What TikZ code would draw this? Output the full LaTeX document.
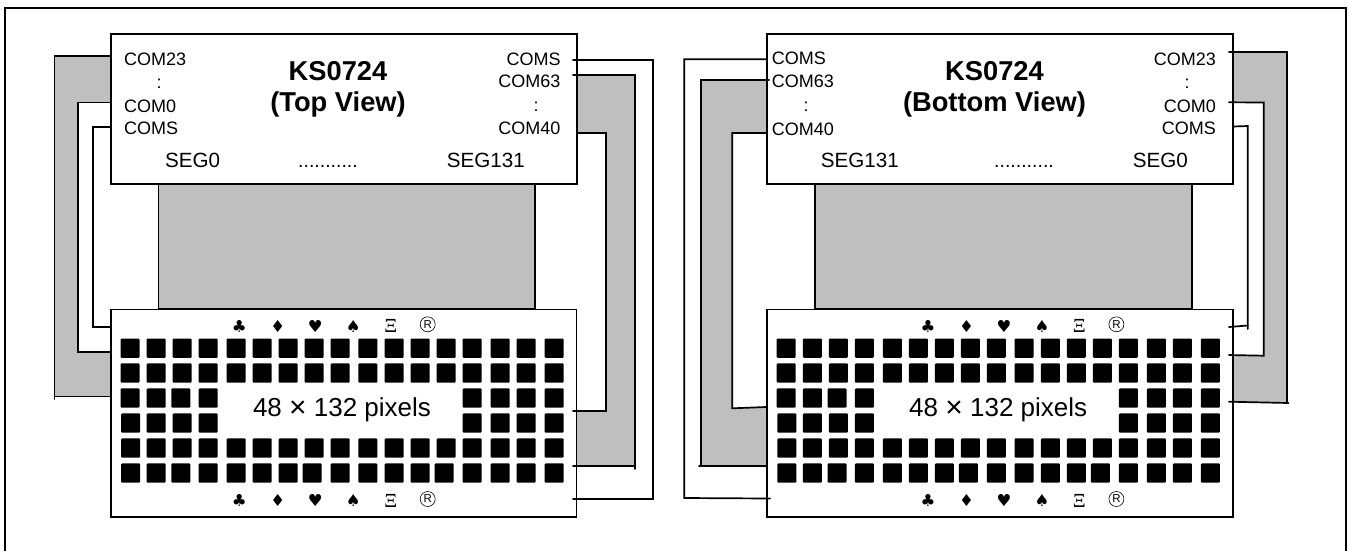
\documentclass[tikz,border=0pt]{standalone}
\usepackage{fontspec}
\setmainfont{Liberation Sans}
\newfontfamily\symfont{DejaVu Sans}
\newfontfamily\xifont{Liberation Serif}
\newcommand{\pxfont}[1]{\fontsize{#1}{#1}\selectfont}
\newcommand{\timesmark}{\raisebox{-1.2pt}{\pxfont{30}×}}
\tikzset{
  frame/.style={line width=1.7pt,draw=black},
  chip/.style={draw=black,fill=white,line width=1.8pt,inner sep=0pt,minimum width=#1,minimum height=150pt,anchor=north west},
  panel/.style={draw=black,fill=white,line width=1.8pt,inner sep=0pt,minimum width=#1,minimum height=207.5pt,anchor=north west},
  flex/.style={draw=black,fill=flexgrey,line width=1.8pt},
  band/.style={fill=flexgrey,draw=none},
  wire/.style={draw=black,line width=1.7pt,line cap=round,line join=miter},
  pin/.style={inner sep=0pt,font=\pxfont{18}},
  seglabel/.style={inner sep=0pt,font=\pxfont{20.6}},
  titlelabel/.style={inner sep=0pt,font=\pxfont{27.3}\bfseries,align=center},
  dim/.style={inner sep=0pt,font=\pxfont{26}},
  glyph/.style={inner sep=0pt,font=\symfont\pxfont{16.5}},
  regmark/.style={circle,draw=black,line width=0.6pt,inner sep=0pt,minimum size=15pt,font=\pxfont{11.5}},
  ximark/.style={inner sep=0pt,font=\xifont\pxfont{20}},
  dotslabel/.style={inner sep=0pt,font=\pxfont{19.5}},
}
\definecolor{flexgrey}{HTML}{BFBFBF}
% rows of pixels: #1 = x offset
\newcommand{\pixrow}[3]{%
  \foreach \cx in {#3} {\fill[black,rounded corners=1pt] ({#1+\cx},#2) rectangle ++(19,19.3);}}
\newcommand{\pixels}[1]{%
  \pixrow{#1}{338.5}{120.5,146.7,172.7,198.7,226.7,252.7,278.7,304.7,330.7,358.3,384.7,410.7,436.7,462.7,490.7,516.7,544.7}
  \pixrow{#1}{363.4}{120.5,146.7,172.7,198.7,226.7,252.7,278.7,304.7,330.7,358.3,384.7,410.7,436.7,462.7,490.7,516.7,544.7}
  \pixrow{#1}{388.4}{120.5,146.7,171.3,198.7,462.7,490.7,516.7,544.7}
  \pixrow{#1}{413.4}{121.2,146.7,172.7,198.7,462.7,490.7,516.7,544.7}
  \pixrow{#1}{438.4}{121.2,146.7,172.7,198.7,226.7,252.7,278.7,304.7,330.7,358.3,384.7,410.7,436.7,462.7,490.7,516.7,544.7}
  \pixrow{#1}{463.4}{121.2,146.7,171.3,198.7,226.7,252.7,278.7,302.7,330.7,358.3,384.7,410.7,434.7,462.7,490.7,516.7,544.7}}
\begin{document}
\begin{tikzpicture}[x=1pt,y=-1pt]
\useasboundingbox (0,0) rectangle (1349,550);
\fill[white] (0,0) rectangle (1349,550);
% outer frame, open at the foot of the picture
\coordinate (fbl) at (5.2,552);
\coordinate (ftl) at (5.2,7.7);
\coordinate (ftr) at (1345.7,7.7);
\coordinate (fbr) at (1345.7,552);
\draw[frame] (fbl) -- (ftl) -- (ftr) -- (fbr);

% ===== grey bands =====
\fill[band] (110,56) -- (54.5,56) -- (54.5,396.5) -- (110,396.5) -- (110,351.7) -- (78,351.7) -- (78,102.5) -- (110,102.5) -- cycle;
\fill[band] (576,75) -- (635.3,75) -- (635.3,465.7) -- (576,465.7) -- (576,410.7) -- (606,410.7) -- (606,132.7) -- (576,132.7) -- cycle;
\fill[band] (767,80) -- (700.7,80) -- (700.7,465.7) -- (767,465.7) -- (767,407) -- (732.3,408.3) -- (732.3,133) -- (767,133) -- cycle;
\fill[band] (1231,52) -- (1286.7,52) -- (1286.7,403) -- (1231,401.7) -- (1231,355) -- (1263.7,355.7) -- (1263.7,102.5) -- (1231,102.5) -- cycle;

% ===== flex strips between chip and panel =====
\draw[flex] (158.5,183) rectangle (535,308.5);
\draw[flex] (815,183) rectangle (1191.7,308.5);

% ===== left assembly =====
\node[chip=466pt] (chipA) at (110,33) {};
\node[panel=465.5pt] (panelA) at (110,308.5) {};
\pixels{0}

% ===== right assembly =====
\node[chip=465.5pt] (chipB) at (766.2,33) {};
\node[panel=465.5pt] (panelB) at (766.2,308.5) {};
\pixels{656.2}

% ===== connector ends =====
\coordinate (a1s) at (chipA.west |- 0,56);
\coordinate (a1e) at (panelA.west |- 0,396.5);
\coordinate (a2s) at (chipA.west |- 0,102.5);
\coordinate (a2e) at (panelA.west |- 0,351.7);
\coordinate (a3s) at (chipA.west |- 0,127);
\coordinate (a3e) at (panelA.west |- 0,326.7);
\coordinate (a4s) at (573,60);
\coordinate (a4e) at (573,499);
\coordinate (a5s) at (573,75);
\coordinate (a5e) at (573,465.7);
\coordinate (a6s) at (chipA.east |- 0,132.7);
\coordinate (a6e) at (573,410.7);
\coordinate (b1s) at (chipB.west |- 0,59.3);
\coordinate (b1e) at (770,498.5);
\coordinate (b2s) at (769,80);
\coordinate (b2e) at (panelB.west |- 0,465.7);
\coordinate (b3s) at (chipB.west |- 0,133);
\coordinate (b3e) at (panelB.west |- 0,407);
\coordinate (b4s) at (1229,52);
\coordinate (b4e) at (1229,401.7);
\coordinate (b5s) at (1229,102.3);
\coordinate (b5e) at (1229,355);
\coordinate (b6s) at (chipB.east |- 0,126.5);
\coordinate (b6e) at (1229,327);

\draw[wire] (a1s) -- (54.5,56) -- (54.5,399);
\draw[wire] (54.5,396.5) -- (a1e);
\draw[wire] (a2s) -- (78,102.5) -- (78,351.7) -- (a2e);
\draw[wire] (a3s) -- (93,127) -- (93,326.7) -- (a3e);
\draw[wire] (a4s) -- (652.7,60) -- (652.7,499) -- (a4e);
\draw[wire] (a5s) -- (635.3,75) -- (635.3,469);
\draw[wire] (635.3,465.7) -- (a5e);
\draw[wire] (a6s) -- (606,132.7) -- (606,410.7) -- (a6e);
\draw[wire] (b1s) -- (684.3,59.3) -- (684.3,498) -- (b1e);
\draw[wire] (b2s) -- (700.7,80) -- (700.7,465.7);
\draw[wire] (699,465.7) -- (b2e);
\draw[wire] (b3s) -- (732.3,133) -- (732.3,408.3) -- (b3e);
\draw[wire] (b4s) -- (1286.7,52) -- (1286.7,403);
\draw[wire] (1288.5,403) -- (b4e);
\draw[wire] (b5s) -- (1263.7,102.5) -- (1263.7,355.7) -- (b5e);
\draw[wire] (b6s) -- (1247.7,126) -- (1247.7,329);
\draw[wire] (1247.7,325.5) -- (b6e);

% ===== left chip text =====
\node[pin,anchor=west] (tA1) at (124,59) {COM23};
\node[pin] (tA2) at (159,84) {:};
\node[pin,anchor=west] (tA3) at (124,106) {COM0};
\node[pin,anchor=west] (tA4) at (124,128) {COMS};
\node[seglabel,anchor=west] (tA5) at (165,160) {SEG0};
\node[titlelabel] (tA6) at (338,71) {KS0724};
\node[titlelabel] (tA7) at (338,104.5) {(Top View)};
\node[dotslabel,anchor=base] (tA8) at (328,167) {...........};
\node[seglabel,anchor=west] (tA9) at (446.7,160) {SEG131};
\node[pin,anchor=east] (tA10) at (560.7,59) {COMS};
\node[pin,anchor=east] (tA11) at (560.7,81) {COM63};
\node[pin] (tA12) at (536,107) {:};
\node[pin,anchor=east] (tA13) at (560.7,128) {COM40};
\node[dim] (tA14) at (342,409.5) {48 \timesmark{} 132 pixels};

% ===== right chip text =====
\node[pin,anchor=west] (tB1) at (771.7,58.5) {COMS};
\node[pin,anchor=west] (tB2) at (771.7,81.5) {COM63};
\node[pin] (tB3) at (806,107) {:};
\node[pin,anchor=west] (tB4) at (771.7,129) {COM40};
\node[seglabel,anchor=west] (tB5) at (820.7,160) {SEG131};
\node[titlelabel] (tB6) at (994.5,71) {KS0724};
\node[titlelabel] (tB7) at (994.5,104.5) {(Bottom View)};
\node[dotslabel,anchor=base] (tB8) at (1024,167) {...........};
\node[seglabel,anchor=east] (tB9) at (1188,160) {SEG0};
\node[pin,anchor=east] (tB10) at (1216,59) {COM23};
\node[pin] (tB11) at (1187,84) {:};
\node[pin,anchor=east] (tB12) at (1216,106) {COM0};
\node[pin,anchor=east] (tB13) at (1216,128) {COMS};
\node[dim] (tB14) at (998.2,409.5) {48 \timesmark{} 132 pixels};

% ===== symbol rows =====
\foreach \off/\nm in {0/a,688.7/b} {
  \foreach \yy/\rw in {326/t,500.7/u} {
    \node[glyph] (\nm\rw1) at (239.3+\off,\yy) {♣};
    \node[glyph] (\nm\rw2) at (277.7+\off,\yy) {♦};
    \node[glyph] (\nm\rw3) at (315.3+\off,\yy) {♥};
    \node[glyph] (\nm\rw4) at (353.3+\off,\yy) {♠};
    \node[ximark] (\nm\rw5) at (390.7+\off,\yy) {Ξ};
    \node[regmark] (\nm\rw6) at (427.7+\off,\yy-1.7) {R};
  }
}
\end{tikzpicture}
\end{document}
